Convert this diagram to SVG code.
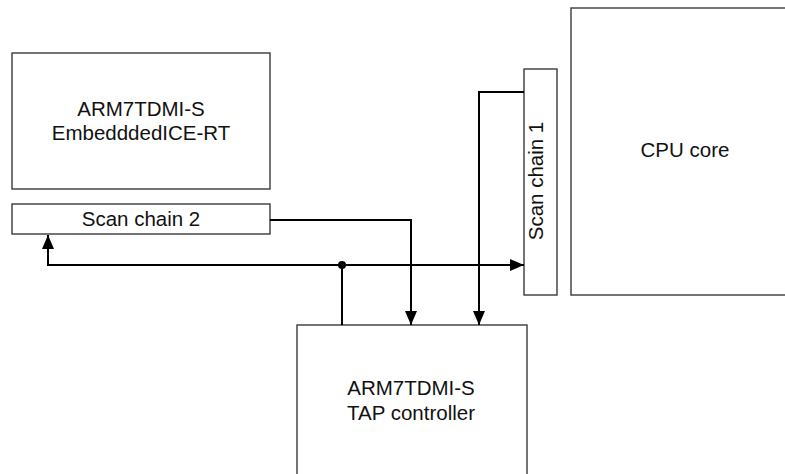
<svg xmlns="http://www.w3.org/2000/svg" width="785" height="474" viewBox="0 0 785 474">
<style>
.box{fill:#fff;stroke:#3a3a3a;stroke-width:1.4}
.lbl{font-family:"Liberation Sans",Arial,sans-serif;font-size:20.5px;fill:#111;text-anchor:middle}
.wire{fill:none;stroke:#000;stroke-width:2}
</style>
<defs>
<marker id="arr" viewBox="0 0 14 12" refX="14" refY="6" markerWidth="14" markerHeight="12" markerUnits="userSpaceOnUse" orient="auto">
<path d="M0,0 L14,6 L0,12 z" fill="#000"/>
</marker>
</defs>
<rect width="785" height="474" fill="#fff"/>
<g id="ice">
<rect class="box" x="12" y="53" width="258" height="136"/>
<text class="lbl" x="141" y="116">ARM7TDMI-S</text>
<text class="lbl" x="141" y="140">EmbedddedICE-RT</text>
</g>
<g id="scan2">
<rect class="box" x="12" y="204" width="258" height="30"/>
<text class="lbl" x="141" y="226">Scan chain 2</text>
</g>
<g id="scan1">
<rect class="box" x="524" y="69" width="33" height="226"/>
<text class="lbl" transform="translate(543,181) rotate(-90)" x="0" y="0">Scan chain 1</text>
</g>
<g id="cpu">
<rect class="box" x="571" y="8" width="220" height="287"/>
<text class="lbl" x="685" y="157">CPU core</text>
</g>
<g id="tap">
<rect class="box" x="297" y="325" width="230" height="160"/>
<text class="lbl" x="411" y="395">ARM7TDMI-S</text>
<text class="lbl" x="411" y="420">TAP controller</text>
</g>
<g id="connectors">
<path class="wire" d="M270,220 H411 V325" marker-end="url(#arr)"/>
<path class="wire" d="M524,92 H479 V325" marker-end="url(#arr)"/>
<path class="wire" d="M342,325 V265"/>
<path class="wire" d="M342,265 H48 V235" marker-end="url(#arr)"/>
<path class="wire" d="M342,265 H524" marker-end="url(#arr)"/>
<circle cx="342" cy="265" r="4" fill="#000"/>
</g>
</svg>
